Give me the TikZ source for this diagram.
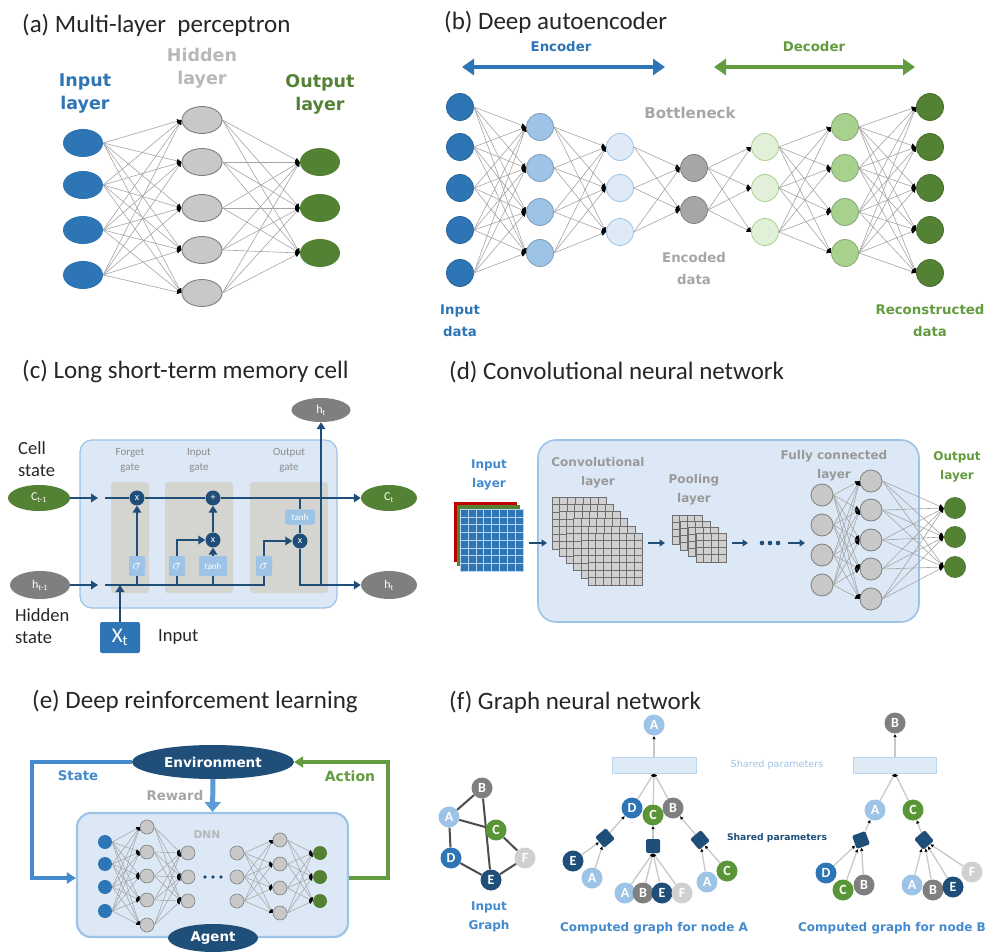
\documentclass[tikz,border=0pt]{standalone}
\usepackage{fontspec}
\setmainfont{Carlito}
\newfontfamily\labf{DejaVu Sans}
\usetikzlibrary{shapes.geometric,arrows.meta}
\definecolor{cblue}{RGB}{46,117,182}
\definecolor{cgreen}{RGB}{84,130,53}
\definecolor{cnavy}{RGB}{31,78,121}
\definecolor{clb}{RGB}{157,195,230}
\definecolor{cvlb}{RGB}{222,235,247}
\definecolor{cgr}{RGB}{200,200,200}
\definecolor{cgrd}{RGB}{127,127,127}
\definecolor{clg}{RGB}{169,209,142}
\definecolor{cvlg}{RGB}{226,240,217}
\definecolor{cboxf}{RGB}{220,232,245}
\definecolor{cboxd}{RGB}{157,195,230}
\definecolor{cgate}{RGB}{212,212,208}
\definecolor{cline}{RGB}{165,165,165}
\definecolor{ctgray}{RGB}{166,166,166}
\definecolor{cred}{RGB}{192,0,0}
\definecolor{cstate}{RGB}{68,138,206}
\definecolor{cact}{RGB}{98,156,62}
\definecolor{crew}{RGB}{91,155,213}
\definecolor{cgridf}{RGB}{208,208,208}
\definecolor{cgridl}{RGB}{110,110,110}
\definecolor{cgF}{RGB}{208,208,208}
\definecolor{cgC}{RGB}{90,150,55}
\definecolor{ctext}{RGB}{38,38,38}
\pgfdeclarelayer{bg}
\pgfsetlayers{bg,main}
\newcommand\gridsq[7]{%
  \fill[#6] (#1,#2) rectangle ++(#3,#4);
  \foreach \k in {1,...,#5}{
    \draw[#7] ({#1+\k*#3/(#5+1)},#2) -- ++(0,#4);
    \draw[#7] (#1,{#2+\k*#4/(#5+1)}) -- ++(#3,0);
  }
  \draw[#7] (#1,#2) rectangle ++(#3,#4);
}
\begin{document}
\begin{tikzpicture}[x=1pt,y=-1pt,
  ttl/.style={anchor=west, inner sep=0pt, text=ctext, font=\fontsize{25}{30}\selectfont},
  labA/.style={align=center, inner sep=0pt, font=\labf\bfseries\fontsize{17.5}{23}\selectfont},
  labB/.style={align=center, inner sep=0pt, font=\labf\bfseries\fontsize{13.3}{22}\selectfont},
  labD/.style={align=center, inner sep=0pt, font=\labf\bfseries\fontsize{12}{19}\selectfont},
  labC/.style={align=left, anchor=west, inner sep=0pt, text=ctext, font=\fontsize{18.5}{22}\selectfont},
  conn/.style={draw=cline, line width=0.6pt, -{Latex[length=4.5pt,width=4.5pt,color=black]}},
  conns/.style={draw=cline, line width=0.55pt, -{Latex[length=3.5pt,width=3.5pt,color=black]}},
  aell/.style={ellipse, minimum width=40pt, minimum height=28pt, inner sep=0pt},
  hell/.style={ellipse, minimum width=40pt, minimum height=27pt, inner sep=0pt, fill=cgr, draw=cgrd, line width=0.9pt},
  bnode/.style={circle, minimum size=27pt, inner sep=0pt, line width=0.8pt},
  pbox/.style={draw=cboxd, fill=cboxf, line width=1.6pt, rounded corners=14pt},
  lline/.style={draw=cnavy, line width=2.8pt},
  larr/.style={lline, -{Triangle[length=7pt,width=8.5pt]}},
  lcirc/.style={circle, fill=cnavy, minimum size=15pt, inner sep=0pt, text=white, font=\fontsize{10}{10}\selectfont},
  lbx/.style={rectangle, rounded corners=2pt, fill=clb, minimum width=16pt, minimum height=20pt, inner sep=0pt, text=white, font=\fontsize{14}{14}\selectfont},
  lell/.style={ellipse, minimum width=58pt, minimum height=26pt, inner sep=0pt, text=white, font=\fontsize{12}{12}\selectfont},
  fcn/.style={circle, minimum size=22pt, inner sep=0pt, fill=cgr, draw=cgrd, line width=0.8pt},
  en/.style={circle, minimum size=14pt, inner sep=0pt, line width=0.6pt},
  gn/.style={circle, minimum size=21pt, inner sep=0pt, text=white, font=\bfseries\fontsize{14}{14}\selectfont},
  sqn/.style={rectangle, rounded corners=1.5pt, fill=cnavy, minimum size=14pt, inner sep=0pt},
  gtip/.style={draw=cgr, line width=1.3pt, -{Latex[length=3.5pt,width=3.5pt,color=black]}},
  gedge/.style={draw=black!70, line width=2pt}
]
\useasboundingbox (0,0) rectangle (989,952);
\begin{pgfonlayer}{bg}
\fill[white] (0,0) rectangle (989,952);
\end{pgfonlayer}

% ================= (a) =================
\node[ttl] (ta) at (22,25) {(a) Multi-layer\ \ perceptron};
\node[labA, text=cblue] (la1) at (85,94) {Input\\layer};
\node[labA, text=ctgray!80] (la2) at (202,68) {Hidden\\layer};
\node[labA, text=cgreen] (la3) at (320,94) {Output\\layer};
\foreach \y [count=\i] in {143,185,230,275} \node[aell, fill=cblue] (ai\i) at (83,\y) {};
\foreach \y [count=\i] in {120,162,208,250,293} \node[hell] (ah\i) at (202,\y) {};
\foreach \y [count=\i] in {162,208,253} \node[aell, fill=cgreen] (ao\i) at (320,\y) {};
\foreach \i in {1,...,4} \foreach \j in {1,...,5} \draw[conn] (ai\i.east) -- (ah\j.west);
\foreach \i in {1,...,5} \foreach \j in {1,...,3} \draw[conn] (ah\i.east) -- (ao\j.west);

% ================= (b) =================
\node[ttl] (tb) at (444,22) {(b) Deep autoencoder};
\node[labB, text=cblue] (lenc) at (561,47) {Encoder};
\node[labB, text=cact] (ldec) at (814,47) {Decoder};
\coordinate (encL) at (462,67); \coordinate (encR) at (665,67);
\coordinate (decL) at (714,67); \coordinate (decR) at (915,67);
\draw[line width=4.5pt, cblue, {Triangle[length=12pt,width=16pt]}-{Triangle[length=12pt,width=16pt]}] (encL) -- (encR);
\draw[line width=4.5pt, cact, {Triangle[length=12pt,width=16pt]}-{Triangle[length=12pt,width=16pt]}] (decL) -- (decR);
\foreach \y [count=\i] in {107,147,188,230,273} \node[bnode, fill=cblue, draw=cblue!85!black] (b1-\i) at (460,\y) {};
\foreach \y [count=\i] in {127,168,212,253} \node[bnode, fill=clb, draw=clb!80!black] (b2-\i) at (540,\y) {};
\foreach \y [count=\i] in {147,188,232} \node[bnode, fill=cvlb, draw=clb] (b3-\i) at (620,\y) {};
\foreach \y [count=\i] in {168,210} \node[bnode, fill=ctgray, draw=cgrd] (b4-\i) at (694,\y) {};
\foreach \y [count=\i] in {147,188,232} \node[bnode, fill=cvlg, draw=clg] (b5-\i) at (765,\y) {};
\foreach \y [count=\i] in {127,168,212,253} \node[bnode, fill=clg, draw=clg!80!black] (b6-\i) at (845,\y) {};
\foreach \y [count=\i] in {107,147,188,230,273} \node[bnode, fill=cgreen, draw=cgreen!85!black] (b7-\i) at (930,\y) {};
\foreach \i in {1,...,5} \foreach \j in {1,...,4} \draw[conn] (b1-\i.east) -- (b2-\j.west);
\foreach \i in {1,...,4} \foreach \j in {1,...,3} \draw[conn] (b2-\i.east) -- (b3-\j.west);
\foreach \i in {1,...,3} \foreach \j in {1,...,2} \draw[conn] (b3-\i.east) -- (b4-\j.west);
\foreach \i in {1,...,2} \foreach \j in {1,...,3} \draw[conn] (b4-\i.east) -- (b5-\j.west);
\foreach \i in {1,...,3} \foreach \j in {1,...,4} \draw[conn] (b5-\i.east) -- (b6-\j.west);
\foreach \i in {1,...,4} \foreach \j in {1,...,5} \draw[conn] (b6-\i.east) -- (b7-\j.west);
\node[labB, text=ctgray, font=\labf\bfseries\fontsize{15}{20}\selectfont] (lbot) at (690,113) {Bottleneck};
\node[labB, text=ctgray] (lencd) at (694,269) {Encoded\\data};
\node[labB, text=cblue] (lind) at (460,321) {Input\\data};
\node[labB, text=cact] (lrec) at (930,321) {Reconstructed\\data};

% ================= (c) =================
\node[ttl] (tc) at (22,372) {(c) Long short-term memory cell};
\node[pbox, minimum width=257pt, minimum height=168pt, rounded corners=12pt, line width=1.2pt] (lbox) at (208.5,524) {};
\fill[cgate, rounded corners=3pt] (111,482) rectangle (149,593);
\fill[cgate, rounded corners=3pt] (165,482) rectangle (233,593);
\fill[cgate, rounded corners=3pt] (250,482) rectangle (328,593);
\node[align=center, inner sep=0pt, text=black!45, font=\fontsize{11}{15}\selectfont] (gf) at (130,460) {Forget\\gate};
\node[align=center, inner sep=0pt, text=black!45, font=\fontsize{11}{15}\selectfont] (gi) at (199,460) {Input\\gate};
\node[align=center, inner sep=0pt, text=black!45, font=\fontsize{11}{15}\selectfont] (go) at (289,460) {Output\\gate};
\node[lell, fill=cgreen, minimum width=62pt] (cin) at (39,498) {C\textsubscript{t-1}};
\node[lell, fill=cgreen, minimum width=56pt] (cout) at (389,498) {C\textsubscript{t}};
\node[lell, fill=cgrd, minimum width=60pt, minimum height=28pt] (hin) at (40,585) {h\textsubscript{t-1}};
\node[lell, fill=cgrd, minimum width=56pt, minimum height=28pt] (hout) at (389,585) {h\textsubscript{t}};
\node[lell, fill=cgrd, minimum width=59pt, minimum height=24pt] (htop) at (321,410) {h\textsubscript{t}};
\node[labC] (lcell) at (18,459) {Cell\\state};
\node[labC] (lhid) at (15,626) {Hidden\\state};
\node[rectangle, rounded corners=2pt, fill=cblue, minimum width=40pt, minimum height=31pt, inner sep=0pt, text=white, font=\fontsize{21}{21}\selectfont] (xt) at (120,637.5) {X\textsubscript{t}};
\node[labC] (linp) at (158,637) {Input};
\node[lcirc] (fx) at (137,498) {x};
\node[lbx] (fs) at (137,566) {$\sigma$};
\node[lcirc] (ip) at (213,498) {+};
\node[lcirc] (ix) at (213,540) {x};
\node[lbx] (is) at (177,566) {$\sigma$};
\node[lbx, minimum width=28pt, font=\fontsize{9}{9}\selectfont] (it) at (213,566) {tanh};
\node[lbx] (os) at (264,566) {$\sigma$};
\node[lbx, minimum width=30pt, minimum height=15pt, font=\fontsize{9}{9}\selectfont] (ot) at (300,517) {tanh};
\node[lcirc] (ox) at (300,541) {x};
\coordinate (cstart) at (105,498); \coordinate (hstart) at (105,585);
\coordinate (cia) at (98,498); \coordinate (hia) at (98,585);
\draw[larr] (cin.east) -- (cia);
\draw[larr] (hin.east) -- (hia);
\draw[lline] (cstart) -- (fx.west);
\draw[lline] (fx.east) -- (ip.west);
\draw[larr] (ip.east) -- (cout.west);
\draw[lline] (hstart) -| (os.south);
\draw[lline] (fs.south) -- (fs.south|-hstart);
\draw[lline] (is.south) -- (is.south|-hstart);
\draw[lline] (it.south) -- (it.south|-hstart);
\draw[larr] (xt.north) -- (xt.north|-hstart);
\draw[larr] (fs.north) -- (fx.south);
\draw[larr] (is.north) |- (ix.west);
\draw[larr] (it.north) -- (ix.south);
\draw[larr] (ix.north) -- (ip.south);
\draw[larr] (os.north) |- (ox.west);
\draw[lline] (ot.north) -- (ot.north|-cstart);
\draw[lline] (ot.south) -- (ox.north);
\draw[larr] (ox.south) |- (hout.west);
\draw[larr] (htop.south|-hout.west) -- (htop.south);

% ================= (d) =================
\node[ttl] (td) at (449,372) {(d) Convolutional\ neural\ network};
\node[pbox, minimum width=381pt, minimum height=182pt, rounded corners=18pt] (cbox) at (728.5,531) {};
\node[labD, text=cstate] (ldin) at (489,475) {Input\\layer};
\fill[cred] (454,502) rectangle ++(63,60);
\fill[cgreen] (457,505) rectangle ++(63,61);
\gridsq{460}{509}{63}{62}{7}{fill=cblue}{draw=clb!70, line width=0.5pt}
\node[labD, text=black!40] (ldconv) at (598,473) {Convolutional\\layer};
\foreach \L in {0,...,5} {\gridsq{552+7.2*\L}{497+7.2*\L}{54}{52}{6}{fill=cgridf}{draw=cgridl, line width=0.6pt}}
\node[labD, text=black!40] (ldpool) at (694,490) {Pooling\\layer};
\foreach \L in {0,...,3} {\gridsq{672+8*\L}{515+6*\L}{30}{29}{3}{fill=cgridf}{draw=cgridl, line width=0.6pt}}
\node[labD, text=black!40] (ldfc) at (834,466) {Fully connected\\layer};
\node[labD, text=cact] (ldout) at (957,467) {Output\\layer};
\coordinate (da1) at (529,543); \coordinate (da1e) at (547,543);
\coordinate (da2) at (648,543); \coordinate (da2e) at (665,543);
\coordinate (da3) at (732,543); \coordinate (da3e) at (748,543);
\coordinate (da4) at (788,543); \coordinate (da4e) at (805,543);
\foreach \a in {1,...,4} \draw[draw=cnavy, line width=2.2pt, -{Triangle[length=5.5pt,width=7pt]}] (da\a) -- (da\a e);
\foreach \x in {762,770,778} \fill[cnavy] (\x,543) circle (2.3);
\foreach \y [count=\i] in {495,525,555,585} \node[fcn] (d1-\i) at (822,\y) {};
\foreach \y [count=\i] in {481,510,540,569,599} \node[fcn] (d2-\i) at (871,\y) {};
\foreach \y [count=\i] in {508,537,567} \node[circle, minimum size=22pt, inner sep=0pt, fill=cgreen] (d3-\i) at (955,\y) {};
\foreach \i in {1,...,4} \foreach \j in {1,...,5} \draw[conn] (d1-\i.east) -- (d2-\j.west);
\foreach \i in {1,...,5} \foreach \j in {1,...,3} \draw[conn] (d2-\i.east) -- (d3-\j.west);

% ================= (e) =================
\node[ttl] (te) at (32,702) {(e) Deep reinforcement learning};
\node[pbox, minimum width=271pt, minimum height=124pt, line width=2.2pt] (dnn) at (212.5,875) {};
\node[ellipse, fill=cnavy, minimum width=162pt, minimum height=34pt, inner sep=0pt, text=white, font=\labf\bfseries\fontsize{13.6}{14}\selectfont] (env) at (213,762) {Environment};
\node[ellipse, fill=cnavy, minimum width=90pt, minimum height=28pt, inner sep=0pt, text=white, font=\labf\bfseries\fontsize{13.4}{14}\selectfont] (agent) at (213,938) {Agent};
\coordinate (sl) at (32,878); \coordinate (ar) at (388,762);
\draw[draw=cstate, line width=3.4pt, -{Triangle[length=9pt,width=11pt]}] (env.west) -| (sl) -- (sl-|dnn.west);
\draw[draw=cact, line width=3.4pt, -{Triangle[length=9pt,width=11pt]}] (dnn.east|-sl) -| (ar) -- (env.east);
\draw[draw=crew, line width=5pt, -{Triangle[length=10pt,width=16pt]}] (env.south) -- (dnn.north);
\node[labB, text=cstate] (lst) at (78,776) {State};
\node[labB, text=cact, font=\labf\bfseries\fontsize{14}{20}\selectfont] (lact) at (350,776) {Action};
\node[labB, text=ctgray] (lrew) at (175,796) {Reward};
\node[labB, text=black!28, font=\labf\bfseries\fontsize{10.7}{12}\selectfont] (ldnn) at (207,835) {DNN};
\foreach \y [count=\i] in {842,864,887,911} \node[en, fill=cblue] (e1-\i) at (105,\y) {};
\foreach \y [count=\i] in {827,852,876,900,925} \node[en, fill=cgr, draw=cgrd] (e2-\i) at (147,\y) {};
\foreach \y [count=\i] in {853,877,901} \node[en, fill=cgr, draw=cgrd] (e3-\i) at (188,\y) {};
\foreach \y [count=\i] in {853,877,901} \node[en, fill=cgr, draw=cgrd] (e4-\i) at (237,\y) {};
\foreach \y [count=\i] in {840,864,888,913} \node[en, fill=cgr, draw=cgrd] (e5-\i) at (280,\y) {};
\foreach \y [count=\i] in {853,877,901} \node[en, fill=cgreen] (e6-\i) at (320,\y) {};
\foreach \x in {205,213,221} \fill[cnavy] (\x,877) circle (1.8);
\foreach \i in {1,...,4} \foreach \j in {1,...,5} \draw[conns] (e1-\i.east) -- (e2-\j.west);
\foreach \i in {1,...,5} \foreach \j in {1,...,3} \draw[conns] (e2-\i.east) -- (e3-\j.west);
\foreach \i in {1,...,3} \foreach \j in {1,...,4} \draw[conns] (e4-\i.east) -- (e5-\j.west);
\foreach \i in {1,...,4} \foreach \j in {1,...,3} \draw[conns] (e5-\i.east) -- (e6-\j.west);

% ================= (f) =================
\node[ttl] (tf) at (449,702) {(f) Graph neural network};
% input graph
\node[gn, fill=cgrd] (iB) at (482,788) {B};
\node[gn, fill=clb] (iA) at (449,817) {A};
\node[gn, fill=cgC] (iC) at (496,830) {C};
\node[gn, fill=cblue] (iD) at (451,858) {D};
\node[gn, fill=cnavy] (iE) at (491,880) {E};
\node[gn, fill=cgF] (iF) at (525,858) {F};
\begin{pgfonlayer}{bg}
\draw[gedge] (iA) -- (iB);
\draw[gedge] (iB) -- (iE);
\draw[gedge] (iA) -- (iC);
\draw[gedge] (iC) -- (iF);
\draw[gedge] (iA) -- (iD);
\draw[gedge] (iD) -- (iE);
\draw[gedge] (iE) -- (iF);
\end{pgfonlayer}
\node[labD, text=cstate] (lig) at (489,917) {Input\\Graph};
% computed graph A
\node[gn, fill=clb] (aA) at (654,725) {A};
\node[rectangle, minimum width=84pt, minimum height=16pt, inner sep=0pt, fill=cvlb, draw=clb!70, line width=0.6pt] (ra) at (654,765) {};
\node[gn, fill=cblue] (aD) at (632,808) {D};
\node[gn, fill=cgC] (aC) at (653,815) {C};
\node[gn, fill=cgrd] (aB) at (673,808) {B};
\node[sqn, rotate=40] (as1) at (605,838) {};
\node[sqn] (as2) at (653,846) {};
\node[sqn, rotate=40] (as3) at (700,840) {};
\node[gn, fill=cnavy] (aE1) at (573,861) {E};
\node[gn, fill=clb] (aA1) at (592,878) {A};
\node[gn, fill=clb] (aA2) at (625,893) {A};
\node[gn, fill=cgrd] (aB2) at (643,893) {B};
\node[gn, fill=cnavy] (aE2) at (662,893) {E};
\node[gn, fill=cgF] (aF2) at (682,893) {F};
\node[gn, fill=clb] (aA3) at (707,882) {A};
\node[gn, fill=cgC] (aC3) at (727,871) {C};
\begin{pgfonlayer}{bg}
\draw[gtip] (ra.north) -- (aA.south);
\draw[gtip] (aD) -- (ra.south);
\draw[gtip] (aC) -- (ra.south);
\draw[gtip] (aB) -- (ra.south);
\draw[gtip] (as1) -- (aD);
\draw[gtip] (as2) -- (aC);
\draw[gtip] (as3) -- (aB);
\draw[gtip] (aE1) -- (as1);
\draw[gtip] (aA1) -- (as1);
\draw[gtip] (aA2) -- (as2.south);
\draw[gtip] (aB2) -- (as2.south);
\draw[gtip] (aE2) -- (as2.south);
\draw[gtip] (aF2) -- (as2.south);
\draw[gtip] (aA3) -- (as3);
\draw[gtip] (aC3) -- (as3);
\end{pgfonlayer}
\node[inner sep=0pt, text=clb, font=\labf\fontsize{9.6}{10}\selectfont] (lsp1) at (777,765) {Shared parameters};
\node[inner sep=0pt, text=cnavy, font=\labf\bfseries\fontsize{9.2}{10}\selectfont] (lsp2) at (777,838) {Shared parameters};
\node[labD, text=cstate] (lcga) at (654,928) {Computed graph for node A};
% computed graph B
\node[gn, fill=cgrd] (bB) at (895,723) {B};
\node[rectangle, minimum width=83pt, minimum height=16pt, inner sep=0pt, fill=cvlb, draw=clb!70, line width=0.6pt] (rb) at (895,765) {};
\node[gn, fill=clb] (bA) at (875,810) {A};
\node[gn, fill=cgC] (bC) at (913,810) {C};
\node[sqn, rotate=20] (bs1) at (861,840) {};
\node[sqn, rotate=40] (bs2) at (924,840) {};
\node[gn, fill=cblue] (bD1) at (826,873) {D};
\node[gn, fill=cgC] (bC1) at (843,890) {C};
\node[gn, fill=cgrd] (bB1) at (864,885) {B};
\node[gn, fill=clb] (bA2) at (912,885) {A};
\node[gn, fill=cgrd] (bB2) at (933,890) {B};
\node[gn, fill=cnavy] (bE2) at (953,887) {E};
\node[gn, fill=cgF] (bF2) at (972,872) {F};
\begin{pgfonlayer}{bg}
\draw[gtip] (rb.north) -- (bB.south);
\draw[gtip] (bA) -- (rb.south);
\draw[gtip] (bC) -- (rb.south);
\draw[gtip] (bs1) -- (bA);
\draw[gtip] (bs2) -- (bC);
\draw[gtip] (bD1) -- (bs1);
\draw[gtip] (bC1) -- (bs1);
\draw[gtip] (bB1) -- (bs1);
\draw[gtip] (bA2) -- (bs2);
\draw[gtip] (bB2) -- (bs2);
\draw[gtip] (bE2) -- (bs2);
\draw[gtip] (bF2) -- (bs2);
\end{pgfonlayer}
\node[labD, text=cstate] (lcgb) at (892,928) {Computed graph for node B};
\end{tikzpicture}
\end{document}
